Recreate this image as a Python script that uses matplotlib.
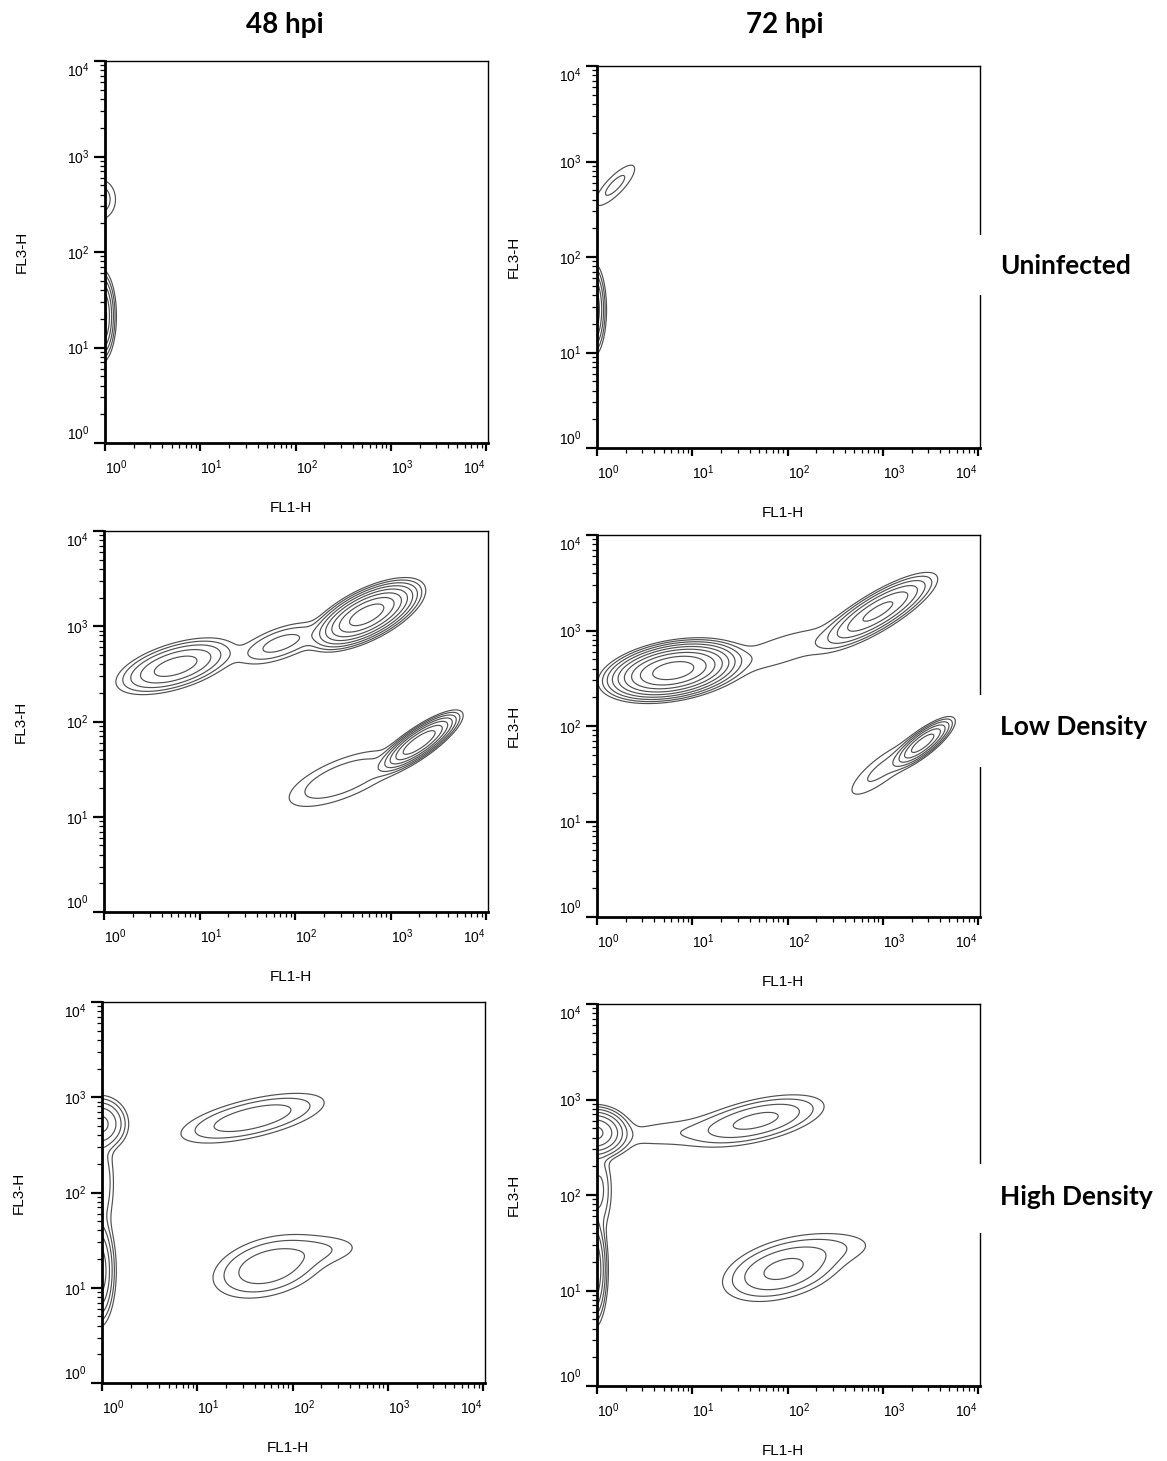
import numpy as np
import matplotlib
matplotlib.use("Agg")
import matplotlib.pyplot as plt
from matplotlib.patches import Rectangle

plt.rcParams['font.family'] = ['Liberation Sans', 'DejaVu Sans']

# populations: (log10 FL1 centre, log10 FL3 centre, half length, half width, angle deg, peak)
uninf_48 = [(-0.05, 1.33, 0.50, 0.17, 90, 60),
            (-0.06, 2.55, 0.21, 0.17, 90, 3.5)]
uninf_72 = [(-0.05, 1.45, 0.50, 0.15, 90, 40),
            (0.19, 2.75, 0.28, 0.09, 46, 2.5)]
lowd_48 = [(0.75, 2.58, 0.65, 0.24, 17, 24),
           (1.85, 2.82, 0.45, 0.16, 20, 5.5),
           (2.75, 3.12, 0.68, 0.27, 27, 200),
           (3.30, 1.78, 0.55, 0.16, 35, 120),
           (2.50, 1.40, 0.60, 0.20, 22, 4)]
lowd_72 = [(0.80, 2.58, 0.80, 0.32, 10, 400),
           (1.95, 2.80, 0.55, 0.13, 18, 1.8),
           (2.95, 3.20, 0.72, 0.20, 31, 40),
           (3.42, 1.82, 0.42, 0.13, 38, 50),
           (3.00, 1.55, 0.40, 0.12, 38, 2.5)]
highd_48 = [(-0.02, 2.72, 0.30, 0.30, 90, 20),
            (0.00, 2.10, 0.45, 0.12, 90, 4),
            (-0.04, 1.18, 0.60, 0.19, 90, 30),
            (1.58, 2.78, 0.77, 0.20, 13, 7),
            (1.75, 1.22, 0.60, 0.30, 15, 7),
            (2.35, 1.40, 0.25, 0.09, 5, 1.5)]
highd_72 = [(-0.03, 2.65, 0.30, 0.40, 90, 80),
            (0.02, 2.05, 0.40, 0.13, 90, 5),
            (0.75, 2.65, 0.45, 0.10, 5, 1.6),
            (-0.04, 1.22, 0.62, 0.16, 90, 40),
            (1.68, 2.78, 0.72, 0.22, 13, 10),
            (1.95, 1.22, 0.65, 0.30, 15, 10),
            (2.50, 1.45, 0.28, 0.10, 5, 1.5)]

panels = [[uninf_48, uninf_72], [lowd_48, lowd_72], [highd_48, highd_72]]
col_titles = ['48 hpi', '72 hpi']
row_titles = ['Uninfected', 'Low Density', 'High Density']
contour_levels = 2.0 ** np.arange(0, 10)

W, H = 1167, 1461
fig = plt.figure(figsize=(W / 100, H / 100), dpi=100)

# axes boxes in pixels: left, top, right, bottom
boxes = [[(105, 61, 488, 443), (597, 66, 980, 448)],
         [(104, 531, 488, 912), (597, 535, 980, 917)],
         [(102, 1002, 485, 1383), (597, 1004, 980, 1386)]]

gx = np.linspace(-0.8, 4.3, 600)
gy = np.linspace(-0.3, 4.3, 560)
LX, LY = np.meshgrid(gx, gy)


def density(pops):
    z = np.zeros_like(LX)
    for cx, cy, a, b, ang, peak in pops:
        r0 = np.sqrt(2 * np.log(peak))
        sa, sb = a / r0, b / r0
        t = np.radians(ang)
        u = (LX - cx) * np.cos(t) + (LY - cy) * np.sin(t)
        v = -(LX - cx) * np.sin(t) + (LY - cy) * np.cos(t)
        z += peak * np.exp(-0.5 * ((u / sa) ** 2 + (v / sb) ** 2))
    return z


for i in range(3):
    for j in range(2):
        l, t, r, b = boxes[i][j]
        ax = fig.add_axes([l / W, 1 - b / H, (r - l) / W, (b - t) / H])
        z = density(panels[i][j])
        lv = contour_levels[contour_levels < z.max()]
        ax.contour(10 ** LX, 10 ** LY, z, levels=lv, colors='#505050', linewidths=0.85)
        ax.set_xscale('log')
        ax.set_yscale('log')
        ax.set_xlim(1, 10 ** 4.02)
        ax.set_ylim(1, 1e4)
        ax.set_xticks([1, 10, 100, 1000, 10000])
        ax.set_yticks([1, 10, 100, 1000, 10000])
        for side in ['left', 'bottom']:
            ax.spines[side].set_linewidth(2)
        for side in ['top', 'right']:
            ax.spines[side].set_linewidth(1)
        ax.tick_params(which='both', direction='out', labelsize=10, colors='black')
        ax.tick_params(axis='y', which='major', length=8, width=1.6, pad=3)
        ax.tick_params(axis='x', which='major', length=6, width=1.6, pad=5)
        ax.tick_params(which='minor', length=3.5, width=0.9)
        xl = ax.get_xticklabels()
        for k, lab in enumerate(xl):
            lab.set_ha('right' if k == len(xl) - 1 else 'left')
        yl = ax.get_yticklabels()
        yl[0].set_va('bottom')
        yl[-1].set_va('top')
        ax.annotate('FL1-H', xy=(0.5, 0), xycoords='axes fraction', xytext=(-4, -47),
                    textcoords='offset points', ha='center', va='center', fontsize=11)
        ax.annotate('FL3-H', xy=(0, 0.5), xycoords='axes fraction', xytext=(-60, 0),
                    textcoords='offset points', ha='center', va='center', fontsize=11,
                    rotation=90)

for j, title in enumerate(col_titles):
    fig.text([285, 785][j] / W, 1 - 25 / H, title, ha='center', va='center',
             fontsize=20, fontweight='bold', family=['Lato', 'DejaVu Sans'])

# white boxes behind the row labels break the right-hand frame
label_y = [266, 727, 1197]
gaps = [(235, 295), (695, 767), (1164, 1233)]
for k, name in enumerate(row_titles):
    g0, g1 = gaps[k]
    fig.patches.append(Rectangle((972 / W, 1 - g1 / H), 190 / W, (g1 - g0) / H,
                                 transform=fig.transFigure, facecolor='white',
                                 edgecolor='none', zorder=5))
    fig.text(1000 / W, 1 - label_y[k] / H, name, ha='left', va='center', fontsize=19,
             fontweight='bold', family=['Lato', 'DejaVu Sans'], zorder=6)

fig.savefig('out.png', dpi=100)
